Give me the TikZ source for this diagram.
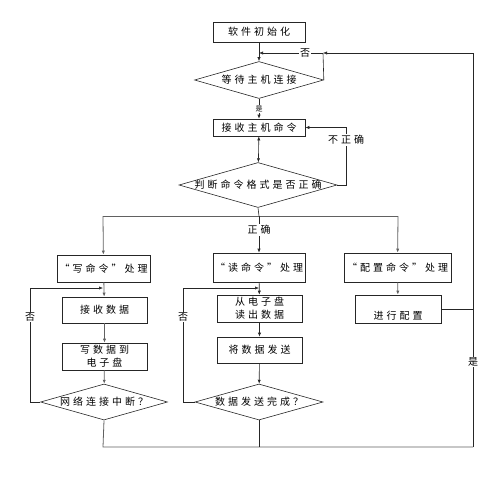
\documentclass[tikz,border=0pt]{standalone}
\usepackage{fontspec}
\newfontfamily\cjk[LetterSpace=30]{Noto Sans CJK SC}
\usetikzlibrary{shapes.geometric,arrows.meta,calc}
\begin{document}
\begin{tikzpicture}[x=1pt,y=-1pt,
  font=\cjk\fontsize{10}{13}\selectfont,
  box/.style={draw=black!85,line width=0.6pt,rectangle,inner sep=0pt,align=center},
  dia/.style={draw=black!85,line width=0.6pt,diamond,inner sep=0pt,aspect=3.5},
  ln/.style={draw=black!85,line width=0.6pt},
  gl/.style={draw=black!62,line width=0.8pt},
  arr/.style={-{Latex[length=4pt,width=3.2pt]}},
  lab/.style={fill=white,inner sep=1pt}]
\useasboundingbox (0,0) rectangle (500,490);
% nodes
\node[box,minimum width=92pt,minimum height=20pt] (init) at (259,32) {软件初始化};
\node[dia,minimum width=129pt,minimum height=37pt] (wait) at (259,80) {\makebox[0pt]{等待主机连接}};
\node[box,minimum width=92pt,minimum height=17pt] (recv) at (259,127.5) {接收主机命令};
\node[dia,minimum width=158pt,minimum height=45pt] (check) at (258,185) {\makebox[0pt]{判断命令格式是否正确}};
\node[box,minimum width=93pt,minimum height=27pt] (write) at (103.5,268.5) {“写命令”处理};
\node[box,minimum width=85pt,minimum height=26pt] (recvdata) at (104.5,310) {接收数据};
\node[box,minimum width=85pt,minimum height=27pt] (writedata) at (104.5,356.5) {写数据到\\电子盘};
\node[dia,minimum width=127pt,minimum height=36pt] (net) at (104,402) {\makebox[0pt]{网络连接中断？}};
\node[box,minimum width=92pt,minimum height=29pt] (read) at (259,267.5) {“读命令”处理};
\node[box,minimum width=85pt,minimum height=27pt] (readdata) at (259.5,308.5) {从电子盘\\读出数据};
\node[box,minimum width=85pt,minimum height=26pt] (send) at (259.5,350) {将数据发送};
\node[dia,minimum width=128pt,minimum height=36pt] (done) at (259,402) {\makebox[0pt]{数据发送完成？}};
\node[box,minimum width=107pt,minimum height=29pt] (config) at (397.5,267.5) {“配置命令”处理};
\node[box,minimum width=86pt,minimum height=28pt] (doconfig) at (398,309) {};
\node (doconfigtxt) at (398,316) {进行配置};
% coordinates
\coordinate (j1) at (259,53);
\coordinate (j2) at (323,53);
\coordinate (rt) at (473,53);
\coordinate (rb) at (473,447);
\coordinate (split) at (259,216);
\coordinate (sl) at (103,216);
\coordinate (sr) at (398,216);
\coordinate (lj) at (103,288);
\coordinate (mj) at (259,288);
% connectors
\draw[ln,arr] (init) -- (wait);
\draw[ln] (wait.east) -- (j2);
\draw[ln,arr] (j2) -- (j1);
\node[lab] (no1) at (305,53) {否};
\draw[ln,arr] (wait) -- node[lab,pos=0.5,font=\cjk\fontsize{7}{8}\selectfont] (yes1) {是} (recv);
\draw[ln,{Latex[length=4pt,width=3.2pt]}-{Latex[length=4pt,width=3.2pt]}] (recv) -- (check);
\draw[ln,arr] (check.east) -- (346,185) -- (346,127.5) -- (recv.east);
\node[lab] (wrong) at (346,140) {不正确};
\draw[ln] (check.south) -- (split);
\draw[gl] (sl) -- (sr);
\draw[gl,arr] (sl) -- (write);
\draw[ln,arr] (split) -- (read);
\node[lab] (right) at (259,230) {正确};
\draw[gl,arr] (sr) -- (config);
% left column
\draw[gl,arr] (write) -- (recvdata);
\draw[gl,arr] (recvdata) -- (writedata);
\draw[gl,arr] (writedata) -- (net);
\draw[ln,arr] (net.west) -- (30,402) -- (30,288) -- (lj);
\node[lab] (no2) at (30,317) {否};
% middle column
\draw[ln,arr] (read) -- (readdata);
\draw[ln,arr] (readdata) -- (send);
\draw[ln,arr] (send) -- (done);
\draw[ln,arr] (done.west) -- (183,402) -- (183,288) -- (mj);
\node[lab] (no3) at (183,317) {否};
% right column
\draw[gl,arr] (config) -- (doconfig);
\draw[ln] (doconfig.east) -- (473,309);
\draw[ln] (rb) -- (rt);
\draw[ln,arr] (rt) -- (j2);
\node[lab] (yes2) at (473,362) {是};
% bottom
\draw[gl] (net.south) -- (103,447) -- (rb);
\draw[ln] (done.south) -- (259,447);
\end{tikzpicture}
\end{document}
